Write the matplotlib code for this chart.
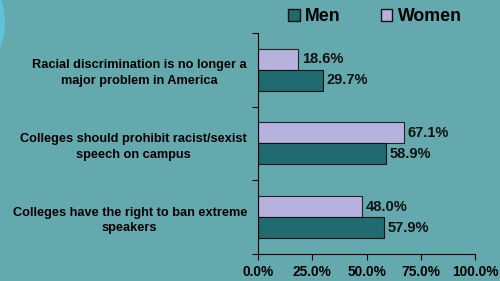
import matplotlib.pyplot as plt
from matplotlib.patches import Ellipse, Patch

categorias = ["Racial discrimination is no longer a\nmajor problem in America",
              "Colleges should prohibit racist/sexist\nspeech on campus",
              "Colleges have the right to ban extreme\nspeakers"]
hombres = [29.7, 58.9, 57.9]
mujeres = [18.6, 67.1, 48.0]
ticks_x = [0, 25, 50, 75, 100]

fondo = "#64A9AE"
c_hombres = "#1F6B70"
c_mujeres = "#B6B2DD"

plt.rcParams['font.family'] = ['Liberation Sans', 'DejaVu Sans']

fig = plt.figure(figsize=(5, 2.81), dpi=100, facecolor=fondo)
fig.patches.append(Ellipse((-0.09, 0.92), 0.2, 0.42, transform=fig.transFigure,
                           facecolor="#5EC3D6", edgecolor="none", zorder=0))
ax = fig.add_axes([0.516, 0.0961, 0.4348, 0.7865])
ax.set_facecolor(fondo)

pos = list(range(len(categorias)))
h = 0.285
ax.barh([p - h / 2 for p in pos], mujeres, height=h, color=c_mujeres,
        edgecolor="#222222", linewidth=0.8, label="Women")
ax.barh([p + h / 2 for p in pos], hombres, height=h, color=c_hombres,
        edgecolor="#111111", linewidth=0.8, label="Men")

for p, v in zip(pos, mujeres):
    ax.text(v + 1.6, p - h / 2, f"{v:.1f}%", va="center", ha="left",
            fontsize=10.5, fontweight="bold", color="#111111")
for p, v in zip(pos, hombres):
    ax.text(v + 1.6, p + h / 2, f"{v:.1f}%", va="center", ha="left",
            fontsize=10.5, fontweight="bold", color="#111111")

ax.set_xlim(0, 100)
ax.set_ylim(2.5, -0.5)
ax.set_xticks(ticks_x)
ax.set_xticklabels([f"{t:.1f}%" for t in ticks_x], fontsize=9.9, fontweight="bold")
ax.set_yticks(pos)
ax.set_yticklabels(categorias, fontsize=9.2, fontweight="bold", multialignment="center",
                   linespacing=1.4)
ax.tick_params(axis="y", length=0, pad=8)
ax.set_yticks([-0.5, 0.5, 1.5, 2.5], minor=True)
ax.tick_params(axis="y", which="minor", length=4, width=0.8, direction="out")
ax.tick_params(axis="x", length=4, width=0.8, pad=4)

for s in ["top", "right"]:
    ax.spines[s].set_visible(False)
for s in ["left", "bottom"]:
    ax.spines[s].set_linewidth(0.8)

handles = [Patch(facecolor=c_hombres, edgecolor="#111111", label="Men"),
           Patch(facecolor=c_mujeres, edgecolor="#111111", label="Women")]
fig.legend(handles=handles, loc="center", bbox_to_anchor=(0.75, 0.94), ncol=2,
           frameon=False, prop={"size": 12.8, "weight": "bold"}, handlelength=0.65,
           handleheight=0.7, handletextpad=0.3, columnspacing=2.25)

fig.savefig("out.png", dpi=100, facecolor=fondo)
